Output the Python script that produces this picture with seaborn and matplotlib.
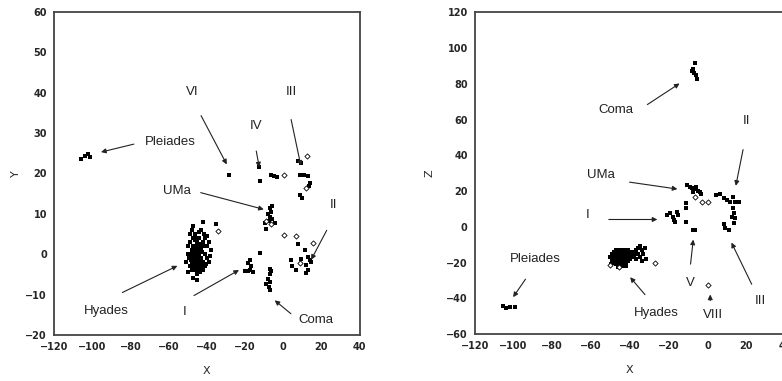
import matplotlib
matplotlib.use('Agg')
import matplotlib.pyplot as plt
import seaborn as sns

# --- DADOS: painel esquerdo (X, Y) ---
hy_xy_x = [-49, -48, -47, -46, -45, -44, -43, -42, -41, -40,
           -50, -49, -48, -47, -46, -45, -44, -43, -42, -41,
           -50, -49, -48, -47, -46, -45, -44, -43, -42, -40,
           -51, -49, -48, -47, -46, -45, -44, -43, -41, -39,
           -48, -46, -44, -42, -45, -47, -45, -50, -38, -39,
           -47, -42, -35, -44, -46, -43, -47.5, -44.5, -42.5, -40.5,
           -48.5, -46.5, -45.5, -41.5, -49.5, -40, -38.5, -43.5, -46, -44]
hy_xy_y = [5, 6, 4, 5, 3, 4, 6, 3, 4, 2,
           2, 3, 1, 2, 2, 1, 2, 1, 2, 0,
           0, -1, 0, -1, 0, -1, 0, -1, -2, -1,
           -2, -3, -2, -3, -2, -3, -2, -3, -3, -2,
           -4, -4, -4, -4, -5, -6, -6.5, -4.5, 1, 3,
           7, 8, 7.5, 5.5, 3.5, 2.5, 0.5, -0.5, 0.5, -2.5,
           -1.5, 1, 4, 5, -1, 4.5, -0.5, -4.5, -3, 1]
ple_xy_x = [-106, -104, -102, -101]
ple_xy_y = [23.5, 24.2, 24.8, 24.0]
vi_xy_x = [-28.4]
vi_xy_y = [19.5]
iv_xy_x = [-12.7, -12.3, -6.2, -5, -3.2]
iv_xy_y = [21.5, 18.1, 19.6, 19.3, 19.1]
iii_xy_x = [7.9, 9.1, 8.6, 10.7, 13.0, 13.9, 13.5, 9.0, 10]
iii_xy_y = [23.0, 22.5, 19.6, 19.6, 19.4, 17.6, 16.8, 14.6, 14.0]
uma_xy_x = [-7.1, -6.2, -7.9, -6.7, -5.7, -4.4, -9.7, -8.8, -6.0, -7.5]
uma_xy_y = [11.3, 10.4, 10.0, 9.2, 8.8, 7.7, 7.6, 6.3, 11.8, 8.2]
ii_xy_x = [7.7, 11.2, 13.0, 13.9, 4.3, 4.8, 6.9, 12.1, 11.8, 13.0, 14.5, 9.5]
ii_xy_y = [2.4, 0.9, -0.7, -1.4, -1.5, -3.0, -4.0, -2.8, -4.7, -4.0, -2.0, -1.2]
i_xy_x = [-17.5, -18.4, -16.7, -17.5, -20.1, -18.4, -16.1, -12.4]
i_xy_y = [-1.4, -2.2, -3.0, -3.9, -4.2, -4.3, -4.4, 0.3]
coma_xy_x = [-7.1, -6.7, -7.9, -7.1, -8.8, -7.4, -7.1, -6.5]
coma_xy_y = [-3.8, -4.8, -6.1, -6.9, -7.3, -8.2, -9.0, -4.2]
open_xy_x = [-34.1, 0.4, 12.5, 12.1, 0.4, 6.5, 15.3, 8.6, -9.0, -6.5]
open_xy_y = [5.7, 19.7, 24.3, 16.3, 4.8, 4.4, 2.8, -2.1, 8.3, 7.5]

# --- DADOS: painel direito (X, Z) ---
hy_xz_x = [-50, -49, -49, -48, -48, -48, -48, -47, -47, -47,
           -47, -47, -46, -46, -46, -46, -45, -45, -45, -45,
           -45, -44, -44, -44, -44, -44, -43, -43, -43, -43,
           -43, -42, -42, -42, -42, -41, -41, -41, -41, -40,
           -40, -40, -39, -39, -38, -38, -37, -37, -36, -36,
           -35, -35, -34, -33, -32, -31.5, -34, -49.5, -46, -42]
hy_xz_z = [-17, -15, -19, -14, -16, -18, -20, -13, -15, -17,
           -19, -21, -14, -16, -18, -20, -13, -15, -17, -19,
           -21, -14, -16, -18, -20, -22, -13, -15, -17, -19,
           -21, -14, -16, -18, -20, -13, -15, -17, -19, -14,
           -16, -18, -15, -17, -14, -16, -13, -18, -12, -15,
           -11, -17, -13, -15, -12, -18, -19, -21, -22.5, -22]
ple_xz_x = [-105.4, -104, -101.6, -99.3]
ple_xz_z = [-44.3, -45.6, -45.1, -45.1]
coma_xz_x = [-6.4, -8.1, -6.9, -5.8, -5.5, -7.5]
coma_xz_z = [91.7, 87.2, 86.1, 84.8, 82.4, 88.5]
uma_xz_x = [-10.5, -9, -8, -6.5, -5, -4, -3.5, -7.5, -6]
uma_xz_z = [23.5, 22.5, 21.5, 21, 20, 19.5, 18.5, 19.5, 22.5]
ii_xz_x = [4.5, 6.6, 8.3, 10.0, 11.7, 13.1, 14.3, 16.0, 13.1, 13.4, 12.6, 14.3, 13.4]
ii_xz_z = [17.7, 18.1, 15.9, 14.9, 14.0, 16.8, 14.0, 14.0, 10.3, 7.5, 5.6, 4.7, 1.9]
iii_xz_x = [8.3, 9.1, 10.9]
iii_xz_z = [1.5, -0.6, -1.9]
i_xz_x = [-21, -19.3, -17.9, -17.2, -16.7, -15.8, -15.0, -11.2, -11.2, -11.2]
i_xz_z = [6.5, 7.5, 5.6, 3.7, 2.8, 8.4, 6.5, 13.1, 10.3, 2.8]
v_xz_x = [-7.6, -6.2]
v_xz_z = [-1.9, -1.9]
open_xz_x = [-50, -45.5, -27, -6.4, -2.9, 0.5, 0.5]
open_xz_z = [-21.4, -22.4, -20.5, 16.8, 14.0, 14.0, -32.6]

# --- ANOTAÇÕES: (texto, pos. texto, início seta, ponta seta) ---
notas_xy = [('VI', (-47.5, 40.2), (-43.7, 34.9), (-28.9, 21.6)),
            ('III', (4.3, 40.2), (3.8, 34.0), (9.5, 21.2)),
            ('IV', (-14.4, 31.7), (-14.4, 26.2), (-12.3, 20.8)),
            ('Pleiades', (-59.3, 27.8), (-76.8, 27.4), (-96.8, 25.1)),
            ('UMa', (-55.9, 15.7), (-44.6, 15.4), (-8.8, 10.9)),
            ('II', (26.1, 12.1), (23.4, 6.5), (13.9, -2.0)),
            ('Hyades', (-92.4, -14.1), (-85.5, -9.8), (-54.1, -2.6)),
            ('I', (-51.5, -14.4), (-48.0, -10.6), (-21.9, -3.6)),
            ('Coma', (17.3, -16.3), (5.1, -15.2), (-5.6, -11.0))]
notas_xz = [('Coma', (-47.2, 65.2), (-32.2, 67.5), (-13.2, 81.0)),
            ('II', (20.0, 59.2), (18.6, 44.7), (14.3, 21.4)),
            ('UMa', (-55.1, 28.9), (-41.6, 25.2), (-14.1, 20.9)),
            ('I', (-62.0, 6.5), (-52.3, 4.1), (-24.4, 4.1)),
            ('Pleiades', (-89.0, -18.2), (-93.0, -28.0), (-101.0, -40.6)),
            ('Hyades', (-26.5, -48.1), (-31.3, -39.1), (-40.8, -27.0)),
            ('V', (-8.6, -31.3), (-8.9, -22.4), (-7.2, -5.6)),
            ('VIII', (2.8, -49.4), (1.4, -42.8), (1.4, -36.3)),
            ('III', (27.2, -41.4), (23.4, -33.5), (11.7, -7.4))]


def desenhar(ax, grupos, abertos, notas):
    for gx, gy in grupos:
        sns.scatterplot(x=gx, y=gy, marker='s', color='black', s=7, linewidth=0, ax=ax)
    sns.scatterplot(x=abertos[0], y=abertos[1], marker='D', s=7, facecolor='white',
                    edgecolor='black', linewidth=0.6, ax=ax)
    for txt, pos, ini, ponta in notas:
        ax.text(pos[0], pos[1], txt, ha='center', va='center', fontsize=9.5,
                family='Liberation Sans', color='#222222')
        ax.annotate('', xy=ponta, xytext=ini,
                    arrowprops=dict(arrowstyle='-|>', lw=0.8, color='#222222', mutation_scale=7))
    for sp in ax.spines.values():
        sp.set_color('#444444')
        sp.set_linewidth(1.3)
    ax.tick_params(length=2, width=0.8, labelsize=7, pad=3)
    for lab in ax.get_xticklabels() + ax.get_yticklabels():
        lab.set_fontweight('bold')


sns.set_style('white')
plt.rcParams['font.family'] = ['DejaVu Sans']

fig = plt.figure(figsize=(7.82, 3.81), dpi=100)
ax1 = fig.add_axes([0.069, 0.121, 0.391, 0.848])
ax2 = fig.add_axes([0.607, 0.123, 0.397, 0.845])

ax1.set_xlim(-120, 40); ax1.set_ylim(-20, 60)
ax1.set_xticks(range(-120, 41, 20)); ax1.set_yticks(range(-20, 61, 10))
ax2.set_xlim(-120, 40); ax2.set_ylim(-60, 120)
ax2.set_xticks(range(-120, 41, 20)); ax2.set_yticks(range(-60, 121, 20))

desenhar(ax1, [(hy_xy_x, hy_xy_y), (ple_xy_x, ple_xy_y), (vi_xy_x, vi_xy_y),
               (iv_xy_x, iv_xy_y), (iii_xy_x, iii_xy_y), (uma_xy_x, uma_xy_y),
               (ii_xy_x, ii_xy_y), (i_xy_x, i_xy_y), (coma_xy_x, coma_xy_y)],
         (open_xy_x, open_xy_y), notas_xy)
desenhar(ax2, [(hy_xz_x, hy_xz_z), (ple_xz_x, ple_xz_z), (coma_xz_x, coma_xz_z),
               (uma_xz_x, uma_xz_z), (ii_xz_x, ii_xz_z), (iii_xz_x, iii_xz_z),
               (i_xz_x, i_xz_z), (v_xz_x, v_xz_z)],
         (open_xz_x, open_xz_z), notas_xz)

ax1.set_xlabel('X', fontsize=8, labelpad=10)
ax1.set_ylabel('Y', fontsize=8, labelpad=3)
ax2.set_xlabel('X', fontsize=8, labelpad=10)
ax2.set_ylabel('Z', fontsize=8, labelpad=8)

fig.savefig('out.png', dpi=100)
